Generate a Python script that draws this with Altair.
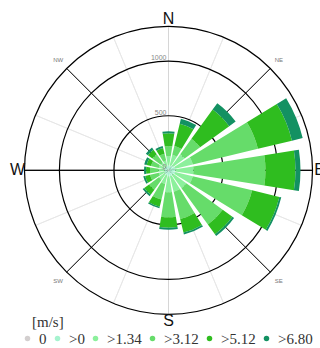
import altair as alt
import pandas as pd

# 16-point wind rose: counts per direction, split into speed classes [m/s]
directions = ["N", "NNE", "NE", "ENE", "E", "ESE", "SE", "SSE",
              "S", "SSW", "SW", "WSW", "W", "WNW", "NW", "NNW"]
speed_bins = ["0", ">0", ">1.34", ">3.12", ">5.12", ">6.80"]
bin_colors = ["#d3cfcf", "#a6f3cf", "#8cf09c", "#66dc6a", "#2fbd1f", "#139162"]
legend_title = "[m/s]"

calm  = [6, 6, 6, 6, 6, 6, 6, 6, 6, 6, 6, 6, 6, 6, 6, 6]
gt0   = [40, 40, 49, 58, 58, 58, 49, 49, 49, 40, 40, 31, 31, 31, 31, 31]
gt134 = [82, 101, 128, 165, 165, 165, 147, 147, 147, 82, 64, 55, 55, 55, 55, 55]
gt312 = [92, 82, 175, 614, 660, 559, 412, 256, 229, 147, 110, 82, 78, 73, 91, 64]
gt512 = [119, 211, 330, 321, 275, 257, 110, 129, 96, 69, 55, 46, 36, 41, 51, 55]
gt680 = [19, 46, 73, 101, 46, 18, 19, 18, 18, 14, 18, 18, 19, 23, 23, 18]
series = [calm, gt0, gt134, gt312, gt512, gt680]

ring_values = [500, 1000]
ring_labels = ["0", "500", "1000"]
radial_max = 1320

cardinals = ["N", "E", "S", "W"]
intercardinals = ["NE", "SE", "SW", "NW"]

rows = []
for i, d in enumerate(directions):
    for j, b in enumerate(speed_bins):
        rows.append({"dir": d, "idx": i, "bin": b, "order": j, "count": series[j][i]})
petals = pd.DataFrame(rows)

# spokes every 22.5 degrees; the W-E axis is black, diagonals dark grey
spoke_colors = []
spoke_widths = []
for i in range(16):
    if i in (4, 12):
        spoke_colors.append("#000000")
        spoke_widths.append(1.0)
    elif i in (2, 6, 10, 14):
        spoke_colors.append("#333333")
        spoke_widths.append(1.0)
    elif i in (0, 8):
        spoke_colors.append("#d6d6d6")
        spoke_widths.append(1.0)
    else:
        spoke_colors.append("#e6e6e6")
        spoke_widths.append(0.9)
spokes = pd.DataFrame({"angle": [i * 22.5 for i in range(16)],
                       "r": [radial_max] * 16,
                       "c": spoke_colors,
                       "w": spoke_widths})

rings = pd.DataFrame({"r": ring_values + [radial_max], "t0": 0, "t1": 360})
rlabels = pd.DataFrame({"label": ring_labels, "r": [0] + ring_values, "angle": 0})
card = pd.DataFrame({"label": cardinals, "angle": [0, 90, 180, 270]})
inter = pd.DataFrame({"label": intercardinals, "angle": [45, 135, 225, 315]})

cx, cy = 168.5, 170.3
theta_scale = alt.Scale(type="linear", domain=[0, 360], range=[0, 6.283185307179586])
r_scale = alt.Scale(type="linear", domain=[0, radial_max], range=[0, 144], zero=True)
center = dict(x=alt.value(cx), y=alt.value(cy))
serif = "Liberation Serif"

spoke_layer = alt.Chart(spokes).mark_arc(filled=False).encode(
    theta=alt.Theta("angle:Q", scale=theta_scale, stack=None),
    theta2="angle:Q",
    radius=alt.Radius("r:Q", scale=r_scale),
    stroke=alt.Stroke("c:N", scale=None),
    strokeWidth=alt.StrokeWidth("w:Q", scale=None),
    **center,
)

ring_layer = alt.Chart(rings).mark_arc(filled=False, stroke="#000000", strokeWidth=1.2).encode(
    theta=alt.Theta("t0:Q", scale=theta_scale, stack=None),
    theta2="t1:Q",
    radius=alt.Radius("r:Q", scale=r_scale),
    **center,
)

bar_layer = alt.Chart(petals).transform_stack(
    stack="count", groupby=["dir"],
    sort=[alt.SortField("order", order="ascending")],
    as_=["r0", "r1"],
).transform_calculate(
    t0="datum.idx * 22.5 - 9", t1="datum.idx * 22.5 + 9"
).mark_arc().encode(
    theta=alt.Theta("t0:Q", scale=theta_scale, stack=None),
    theta2="t1:Q",
    radius=alt.Radius("r1:Q", scale=r_scale),
    radius2="r0:Q",
    color=alt.Color(
        "bin:N",
        scale=alt.Scale(domain=speed_bins, range=bin_colors),
        legend=alt.Legend(
            title=None, orient="none", legendX=20, legendY=331,
            direction="horizontal", gridAlign="none", symbolType="circle",
            symbolSize=30, symbolStrokeWidth=0, labelFont=serif, labelFontSize=15,
            labelColor="#333333", columnPadding=3,
            labelOffset=4, padding=0, offset=0,
        ),
    ),
    **center,
)

# legend heading
title_layer = alt.Chart(pd.DataFrame({"t": [legend_title]})).mark_text(
    align="left", baseline="middle", font=serif, fontSize=15, color="#333333"
).encode(x=alt.value(32), y=alt.value(322), text="t:N")

rlabel_layer = alt.Chart(rlabels).mark_text(
    align="right", baseline="bottom", dx=-2, fontSize=7, color="#888888", font="Liberation Sans"
).encode(
    theta=alt.Theta("angle:Q", scale=theta_scale, stack=None),
    radius=alt.Radius("r:Q", scale=r_scale),
    text="label:N",
    **center,
)

card_layer = alt.Chart(card).mark_text(
    align="center", baseline="middle", fontSize=16, color="#111111", font="Liberation Sans"
).encode(
    theta=alt.Theta("angle:Q", scale=theta_scale, stack=None),
    radius=alt.value(151),
    text="label:N",
    **center,
)

inter_layer = alt.Chart(inter).mark_text(
    align="center", baseline="middle", fontSize=6, color="#777777", font="Liberation Sans"
).encode(
    theta=alt.Theta("angle:Q", scale=theta_scale, stack=None),
    radius=alt.value(156),
    text="label:N",
    **center,
)

chart = alt.layer(
    spoke_layer, ring_layer, bar_layer, rlabel_layer, card_layer, inter_layer, title_layer
).properties(
    width=320, height=348, autosize=alt.AutoSizeParams(type="none"), padding=0,
    background="#ffffff",
).configure_view(stroke=None)

chart.save("out.html", embed_options={"renderer": "svg", "actions": False})
